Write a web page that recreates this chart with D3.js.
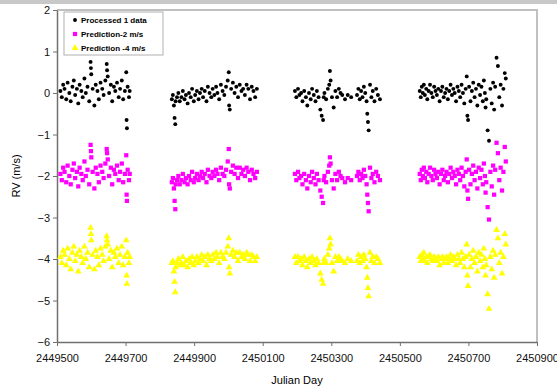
<!DOCTYPE html>
<html>
<head>
<meta charset="utf-8">
<script src="https://cdn.jsdelivr.net/npm/d3@7"></script>
<style>
  body { margin: 0; background: #fff; }
  text { font-family: "Liberation Sans", Arial, sans-serif; }
</style>
</head>
<body>
<script>
// series names for the legend
var seriesNames = ["Processed 1 data", "Prediction-2 m/s", "Prediction -4 m/s"];
var seriesColors = ["#000000", "#ff00ff", "#ffff00"];

// julian day of each observation
var jd = [
  2449510, 2449514, 2449518, 2449522, 2449527, 2449531, 2449536, 2449540, 2449545, 2449549, 2449553, 2449558, 2449562, 2449566, 2449571, 2449575, 2449580, 2449584, 2449589, 2449594, 2449598, 2449599, 2449600, 2449604, 2449609, 2449613, 2449618, 2449622, 2449627, 2449632, 2449636, 2449641, 2449645, 2449646, 2449648, 2449652, 2449657, 2449661, 2449666, 2449670, 2449675, 2449680, 2449684, 2449689, 2449693, 2449698, 2449702, 2449703, 2449704, 2449706, 2449710, 2449712,
  2449835, 2449838, 2449841, 2449843, 2449845, 2449846, 2449850, 2449854, 2449858, 2449863, 2449867, 2449872, 2449876, 2449881, 2449885, 2449890, 2449894, 2449899, 2449903, 2449908, 2449913, 2449917, 2449922, 2449926, 2449931, 2449936, 2449940, 2449945, 2449950, 2449954, 2449959, 2449964, 2449968, 2449973, 2449978, 2449983, 2449988, 2449993, 2449998, 2450001, 2450002, 2450004, 2450008, 2450013, 2450018, 2450023, 2450028, 2450033, 2450038, 2450043, 2450048, 2450053, 2450058, 2450063, 2450068, 2450073, 2450078, 2450083,
  2450194, 2450198, 2450203, 2450207, 2450212, 2450216, 2450221, 2450226, 2450230, 2450235, 2450240, 2450244, 2450249, 2450254, 2450258, 2450263, 2450268, 2450272, 2450276, 2450278, 2450280, 2450285, 2450290, 2450294, 2450296, 2450298, 2450302, 2450307, 2450312, 2450317, 2450322, 2450327, 2450332, 2450340, 2450348, 2450358,
  2450375, 2450379, 2450383, 2450387, 2450391, 2450395, 2450399, 2450403, 2450405, 2450407, 2450409, 2450413, 2450417, 2450421, 2450426, 2450431, 2450436, 2450442,
  2450558, 2450561, 2450564, 2450567, 2450570, 2450573, 2450577, 2450580, 2450584, 2450588, 2450592, 2450596, 2450600, 2450604, 2450608, 2450612, 2450616, 2450620, 2450624, 2450628, 2450632, 2450636, 2450640, 2450644, 2450648, 2450652, 2450656, 2450660, 2450664, 2450668, 2450672, 2450676, 2450680, 2450684, 2450688, 2450692, 2450695, 2450697, 2450699, 2450702, 2450706, 2450710, 2450714, 2450718, 2450722, 2450726, 2450730, 2450734, 2450738, 2450742, 2450745, 2450748, 2450750, 2450752, 2450756, 2450760, 2450764, 2450768, 2450772, 2450775, 2450778, 2450782, 2450786, 2450790, 2450794, 2450798, 2450802, 2450806, 2450809
];

// black series (m/s)
var rvBlack = [
  0.05, -0.1, 0.2, 0.1, -0.15, 0.25, 0.0, -0.2, 0.15, 0.3, -0.05, 0.1, -0.25, 0.2, 0.05, -0.1, 0.35, 0.0, 0.15, -0.2, 0.75, 0.6, 0.45, 0.1, -0.3, 0.2, 0.05, -0.15, 0.25, 0.1, -0.05, 0.3, 0.7, 0.55, 0.4, 0.0, 0.2, -0.2, 0.15, 0.05, 0.25, -0.1, 0.1, 0.3, -0.15, 0.05, 0.5, -0.65, -0.85, 0.15, -0.1, 0.05,
  -0.15, -0.05, -0.3, -0.6, -0.75, -0.2, -0.1, 0.0, -0.2, -0.1, 0.05, -0.15, -0.05, -0.25, 0.0, -0.1, 0.1, -0.2, -0.05, 0.05, -0.15, 0.0, 0.1, -0.1, 0.05, -0.2, 0.15, 0.0, -0.1, 0.1, -0.05, 0.15, 0.0, -0.15, 0.2, 0.05, -0.05, 0.15, 0.3, 0.5, -0.3, -0.4, 0.1, 0.25, 0.0, 0.15, -0.1, 0.2, 0.05, 0.1, -0.05, 0.2, 0.1, -0.15, 0.15, 0.05, -0.1, 0.1,
  0.05, -0.1, 0.1, -0.05, 0.0, -0.2, 0.05, -0.1, -0.3, 0.0, -0.15, 0.1, -0.05, -0.2, 0.05, -0.1, -0.4, -0.55, -0.65, -0.1, 0.0, -0.15, 0.1, 0.2, 0.53, 0.3, -0.1, -0.35, 0.05, -0.1, 0.1, 0.0, -0.05, -0.15, -0.05, -0.1,
  -0.05, 0.1, -0.15, 0.05, -0.1, 0.15, 0.0, -0.2, -0.5, -0.7, -0.9, 0.2, -0.1, 0.05, -0.2, 0.1, -0.05, -0.15,
  0.05, -0.1, 0.15, 0.0, 0.2, -0.05, 0.1, -0.15, 0.05, 0.2, 0.0, -0.1, 0.15, 0.05, -0.05, 0.1, -0.2, 0.05, 0.15, -0.1, 0.0, 0.1, -0.15, 0.05, 0.2, -0.05, 0.1, 0.0, -0.2, 0.15, 0.05, -0.1, 0.2, 0.0, -0.25, 0.1, 0.4, -0.55, -0.65, 0.15, -0.2, 0.05, 0.25, -0.1, 0.1, -0.3, 0.2, -0.05, 0.15, -0.2, 0.3, 0.0, -0.35, -0.15, -0.9, -1.15, 0.1, -0.25, 0.25, -0.4, 0.15, 0.85, 0.65, -0.1, 0.2, -0.3, 0.1, 0.48, 0.35
];

// magenta series (m/s)
var rvMagenta = [
  -1.95, -2.1, -1.8, -1.9, -2.15, -1.75, -2.0, -2.2, -1.85, -1.7, -2.05, -1.9, -2.25, -1.8, -1.95, -2.1, -1.65, -2.0, -1.85, -2.2, -1.25, -1.4, -1.55, -1.9, -2.3, -1.8, -1.95, -2.15, -1.75, -1.9, -2.05, -1.7, -1.35, -1.45, -1.6, -2.0, -1.8, -2.2, -1.85, -1.95, -1.75, -2.1, -1.9, -1.7, -2.15, -1.95, -1.5, -2.45, -2.6, -1.85, -2.1, -1.95,
  -2.15, -2.05, -2.3, -2.6, -2.8, -2.2, -2.1, -2.0, -2.2, -2.1, -1.95, -2.15, -2.05, -2.2, -2.0, -2.1, -1.9, -2.15, -2.05, -1.95, -2.1, -2.0, -1.9, -2.05, -1.95, -2.15, -1.85, -2.0, -2.05, -1.9, -2.0, -1.85, -1.95, -2.1, -1.8, -1.95, -2.0, -1.85, -1.65, -1.35, -2.2, -2.3, -1.9, -1.75, -1.95, -1.8, -2.05, -1.8, -1.95, -1.85, -2.0, -1.8, -1.9, -2.1, -1.85, -1.95, -2.05, -1.9,
  -1.95, -2.1, -1.9, -2.05, -2.0, -2.2, -1.95, -2.1, -2.3, -2.0, -2.15, -1.9, -2.05, -2.2, -1.95, -2.1, -2.35, -2.5, -2.65, -2.1, -2.0, -2.15, -1.9, -1.75, -1.55, -1.7, -2.1, -2.3, -1.95, -2.1, -1.9, -2.0, -2.05, -2.15, -2.05, -2.1,
  -2.0, -1.9, -2.1, -1.95, -2.05, -1.85, -2.0, -2.2, -2.45, -2.65, -2.85, -1.8, -2.05, -1.95, -2.15, -1.9, -2.0, -2.1,
  -1.95, -2.1, -1.85, -2.0, -1.8, -2.05, -1.9, -2.15, -1.95, -1.8, -2.0, -2.1, -1.85, -1.95, -2.05, -1.9, -2.2, -1.95, -1.85, -2.1, -2.0, -1.9, -2.15, -1.95, -1.8, -2.05, -1.9, -2.0, -2.2, -1.85, -1.95, -2.1, -1.8, -2.0, -2.25, -1.9, -1.6, -2.35, -2.55, -1.85, -2.2, -1.95, -1.75, -2.1, -1.9, -2.3, -1.8, -2.05, -1.85, -2.2, -1.7, -2.0, -2.4, -2.15, -2.75, -3.05, -1.9, -2.25, -1.75, -2.45, -1.85, -1.2, -1.45, -2.1, -1.8, -2.35, -1.9, -1.3, -1.65
];

// yellow series (m/s)
var rvYellow = [
  -3.95, -4.1, -3.8, -3.9, -4.15, -3.75, -4.0, -4.25, -3.85, -3.7, -4.05, -3.9, -4.3, -3.8, -3.95, -4.1, -3.7, -4.0, -3.85, -4.2, -3.25, -3.4, -3.55, -3.9, -4.25, -3.8, -3.95, -4.15, -3.75, -3.9, -4.05, -3.7, -3.45, -3.55, -3.65, -4.0, -3.8, -4.2, -3.85, -3.95, -3.75, -4.1, -3.9, -3.7, -4.15, -3.95, -3.55, -4.4, -4.6, -3.85, -4.1, -3.95,
  -4.1, -4.05, -4.3, -4.55, -4.8, -4.2, -4.1, -4.0, -4.15, -4.1, -3.95, -4.15, -4.05, -4.2, -4.0, -4.1, -3.95, -4.15, -4.05, -3.95, -4.1, -4.0, -3.9, -4.05, -3.95, -4.15, -3.9, -4.0, -4.05, -3.9, -4.0, -3.85, -3.95, -4.1, -3.85, -3.95, -4.0, -3.85, -3.7, -3.5, -4.2, -4.35, -3.9, -3.8, -3.95, -3.85, -4.05, -3.85, -3.95, -3.9, -4.0, -3.85, -3.9, -4.05, -3.9, -3.95, -4.05, -3.95,
  -3.95, -4.1, -3.95, -4.05, -4.0, -4.15, -3.95, -4.05, -4.2, -4.0, -4.1, -3.95, -4.05, -4.15, -4.0, -4.1, -4.35, -4.5, -4.6, -4.1, -4.0, -4.1, -3.9, -3.75, -3.5, -3.65, -4.1, -4.3, -3.95, -4.05, -3.95, -4.0, -4.05, -4.1, -4.0, -4.05,
  -4.05, -3.9, -4.1, -3.95, -4.05, -3.9, -4.0, -4.2, -4.45, -4.7, -4.9, -3.85, -4.05, -3.95, -4.1, -3.95, -4.0, -4.1,
  -3.95, -4.05, -3.9, -4.0, -3.85, -4.05, -3.95, -4.1, -3.95, -3.9, -4.0, -4.05, -3.95, -4.0, -4.05, -3.95, -4.15, -4.0, -3.95, -4.1, -4.0, -3.95, -4.1, -4.0, -3.9, -4.05, -3.95, -4.0, -4.15, -3.9, -4.0, -4.1, -3.85, -4.0, -4.2, -3.95, -3.65, -4.4, -4.65, -3.9, -4.2, -4.0, -3.8, -4.1, -3.95, -4.3, -3.85, -4.05, -3.9, -4.2, -3.75, -4.0, -4.4, -4.15, -4.85, -5.2, -3.95, -4.25, -3.8, -4.45, -3.9, -3.3, -3.5, -4.1, -3.85, -4.35, -3.95, -3.4, -3.65
];

var xTicks = [2449500, 2449700, 2449900, 2450100, 2450300, 2450500, 2450700, 2450900];
var yTicks = [2, 1, 0, -1, -2, -3, -4, -5, -6];

var W = 557, H = 390;
var plotL = 57, plotR = 537, plotT = 10, plotB = 342;

var svg = d3.select("body").append("svg")
  .attr("width", W)
  .attr("height", H);

// grey strip at the very top
svg.append("rect").attr("x", 0).attr("y", 0).attr("width", W).attr("height", 4).attr("fill", "#c8c8c8");

var x = d3.scaleLinear().domain([2449500, 2450900]).range([plotL, plotR]);
var y = d3.scaleLinear().domain([-6, 2]).range([plotB, plotT]);

// plot area frame (top and right)
svg.append("path")
  .attr("d", "M" + plotL + "," + plotT + "H" + plotR + "V" + plotB)
  .attr("fill", "none")
  .attr("stroke", "#c0c0c0")
  .attr("stroke-width", 2);

var xAxis = svg.append("g")
  .attr("transform", "translate(0," + plotB + ")")
  .call(d3.axisBottom(x).tickValues(xTicks).tickFormat(d3.format("d")).tickSize(4).tickSizeOuter(0));
var yAxis = svg.append("g")
  .attr("transform", "translate(" + plotL + ",0)")
  .call(d3.axisLeft(y).tickValues(yTicks).tickFormat(d3.format("d")).tickSize(4).tickSizeOuter(0));

[xAxis, yAxis].forEach(function(g) {
  g.select(".domain").attr("stroke", "#707070").attr("stroke-width", 1.5);
  g.selectAll(".tick line").attr("stroke", "#707070");
  g.selectAll(".tick text").attr("fill", "#111").attr("font-size", "11px")
    .attr("font-family", "'Liberation Sans', Arial, sans-serif");
});
xAxis.selectAll(".tick text").attr("y", 9).attr("dy", "1em");
yAxis.selectAll(".tick text").attr("x", -7);

// axis titles
svg.append("text")
  .attr("x", (plotL + plotR) / 2)
  .attr("y", 384)
  .attr("text-anchor", "middle")
  .attr("font-size", "11px")
  .text("Julian Day");
svg.append("text")
  .attr("transform", "translate(20," + ((plotT + plotB) / 2) + ") rotate(-90)")
  .attr("text-anchor", "middle")
  .attr("font-size", "11px")
  .text("RV (m/s)");

var shapes = [d3.symbolCircle, d3.symbolSquare, d3.symbolTriangle];
var sizes = [12, 18, 20];
var allSeries = [rvBlack, rvMagenta, rvYellow];

// draw yellow first, black last
[2, 1, 0].forEach(function(k) {
  var pts = jd.map(function(d, i) { return [d, allSeries[k][i]]; })
    .filter(function(p) { return p[1] !== undefined; });
  svg.append("g").selectAll("path")
    .data(pts)
    .enter()
    .append("path")
    .attr("transform", function(p) { return "translate(" + x(p[0]) + "," + y(p[1]) + ")"; })
    .attr("d", d3.symbol().type(shapes[k]).size(sizes[k]))
    .attr("fill", seriesColors[k]);
});

// legend
var lg = svg.append("g").attr("transform", "translate(64,12)");
lg.append("rect")
  .attr("width", 99).attr("height", 43)
  .attr("fill", "#fff")
  .attr("stroke", "#b0b0b0");
seriesNames.forEach(function(name, k) {
  lg.append("path")
    .attr("transform", "translate(11," + (8 + k * 14) + ")")
    .attr("d", d3.symbol().type(shapes[k]).size(sizes[k]))
    .attr("fill", seriesColors[k]);
  lg.append("text")
    .attr("x", 17)
    .attr("y", 11 + k * 14)
    .attr("font-size", "8px")
    .attr("font-weight", "bold")
    .text(name);
});
</script>
</body>
</html>
